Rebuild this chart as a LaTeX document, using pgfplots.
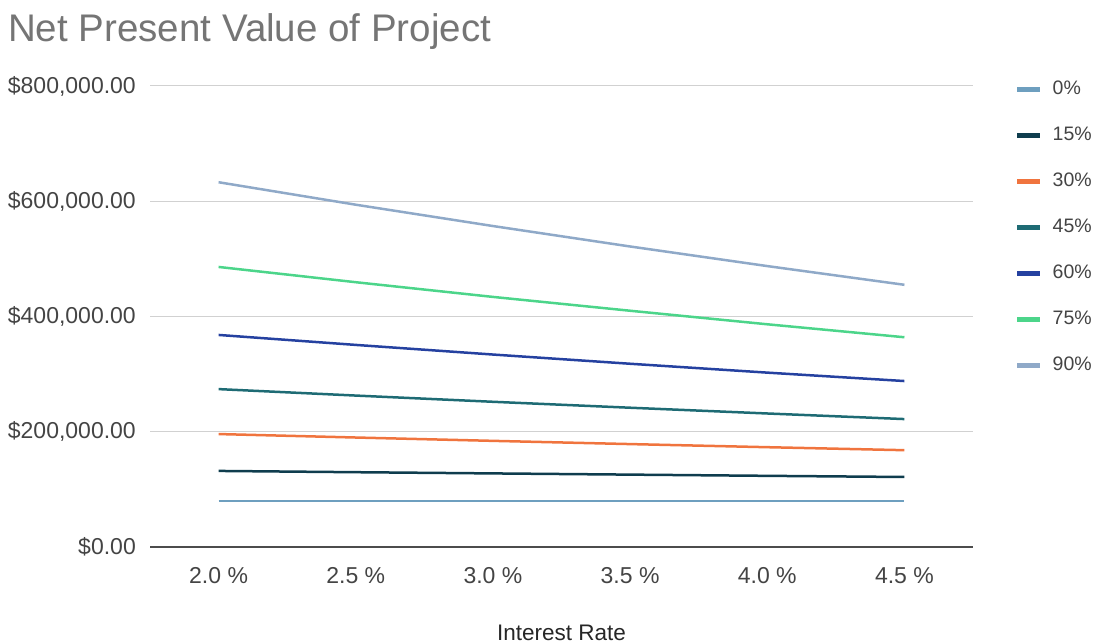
\documentclass[border=0pt]{standalone}
\usepackage{pgfplots}
\pgfplotsset{compat=1.18}
\usepackage{fontspec}
\setmainfont{Liberation Sans}
\definecolor{c0}{HTML}{6E9FBF}
\definecolor{c15}{HTML}{0F3D4E}
\definecolor{c30}{HTML}{F0743E}
\definecolor{c45}{HTML}{1E6B74}
\definecolor{c60}{HTML}{2541A0}
\definecolor{c75}{HTML}{4CD58A}
\definecolor{c90}{HTML}{8FA9C8}
\definecolor{titlegray}{HTML}{757575}
\definecolor{ticktext}{HTML}{444444}
\begin{document}
\begin{tikzpicture}
\path[use as bounding box] (0pt,0pt) rectangle (1099pt,643pt);
\node[anchor=base west, font=\fontsize{38.5}{38.5}\selectfont, text=titlegray, inner sep=0pt] at (8pt,601pt) {Net Present Value of Project};
\begin{axis}[
  at={(150pt,96pt)}, anchor=south west,
  scale only axis, width=823pt, height=461pt,
  xmin=-0.5, xmax=5.5, ymin=0, ymax=800000,
  axis lines*=left,
  y axis line style={draw=none},
  x axis line style={draw=black!70, line width=1.3pt},
  major tick length=0pt,
  xtick={0,1,2,3,4,5},
  xticklabels={2.0 \%,2.5 \%,3.0 \%,3.5 \%,4.0 \%,4.5 \%},
  ytick={0,200000,400000,600000,800000},
  yticklabels={\$0.00,{\$200,000.00},{\$400,000.00},{\$600,000.00},{\$800,000.00}},
  scaled y ticks=false,
  ymajorgrids, grid style={draw=black!18, line width=1pt},
  tick label style={font=\fontsize{23}{23}\selectfont, text=ticktext, inner sep=0pt},
  xticklabel style={yshift=-20pt},
  yticklabel style={xshift=-14pt},
  xlabel={Interest Rate},
  xlabel style={at={(axis description cs:0.5,0)}, anchor=base, yshift=-93pt, font=\fontsize{22.5}{22.5}\selectfont, text=black!85, inner sep=0pt},
  legend style={at={(1.0474,1.017)}, anchor=north west, draw=none, fill=none,
    font=\fontsize{19.5}{19.5}\selectfont, text=ticktext,
    nodes={inner sep=0pt, text height=14pt, text depth=4pt, anchor=west},
    row sep=28pt, column sep=10pt},
  legend cell align=left,
  legend image code/.code={\draw[#1, line width=4.5pt] (0pt,0pt) -- (23pt,0pt);},
  every axis plot/.append style={line width=2.5pt, line join=round},
  clip=false,
]
\addplot[c0] coordinates {(0,80000) (1,80000) (2,80000) (3,80000) (4,80000) (5,80000)};
\addlegendentry{0\%}
\addplot[c15] coordinates {(0,132000) (1,129800) (2,127700) (3,125600) (4,123500) (5,121500)};
\addlegendentry{15\%}
\addplot[c30] coordinates {(0,196000) (1,190000) (2,184200) (3,178600) (4,173200) (5,168000)};
\addlegendentry{30\%}
\addplot[c45] coordinates {(0,274000) (1,262800) (2,252000) (3,241700) (4,231700) (5,222000)};
\addlegendentry{45\%}
\addplot[c60] coordinates {(0,368000) (1,350700) (2,334000) (3,318000) (4,302600) (5,288000)};
\addlegendentry{60\%}
\addplot[c75] coordinates {(0,486000) (1,459500) (2,434000) (3,410000) (4,386500) (5,364000)};
\addlegendentry{75\%}
\addplot[c90] coordinates {(0,633000) (1,594000) (2,557000) (3,521500) (4,487500) (5,455000)};
\addlegendentry{90\%}
\end{axis}
\end{tikzpicture}
\end{document}
